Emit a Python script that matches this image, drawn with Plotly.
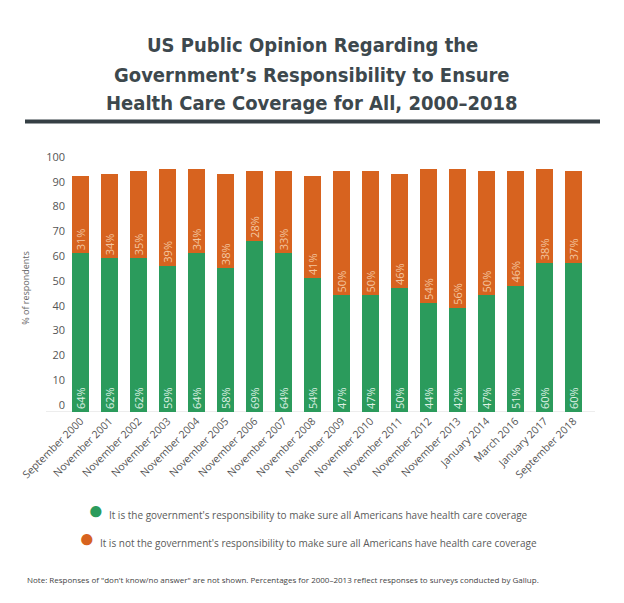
import plotly.graph_objects as go

categories = ["September 2000", "November 2001", "November 2002", "November 2003",
              "November 2004", "November 2005", "November 2006", "November 2007",
              "November 2008", "November 2009", "November 2010", "November 2011",
              "November 2012", "November 2013", "January 2014", "March 2016",
              "January 2017", "September 2018"]
yes_values = [64, 62, 62, 59, 64, 58, 69, 64, 54, 47, 47, 50, 44, 42, 47, 51, 60, 60]
no_values = [31, 34, 35, 39, 34, 38, 28, 33, 41, 50, 50, 46, 54, 56, 50, 46, 38, 37]
y_ticks = [0, 10, 20, 30, 40, 50, 60, 70, 80, 90, 100]

GREEN = "#2b9b5c"
ORANGE = "#d7631f"

# page body has an 8px default margin; work in reference pixel coords and offset
OFF = 8
W, H = 624 - OFF, 603 - 2 * OFF
PLOT_L, PLOT_R, PLOT_T, PLOT_B = 66, 588, 163.5, 412   # reference pixel coords
M_L = PLOT_L - OFF
M_R = W - (PLOT_R - OFF)
M_T = PLOT_T - OFF
M_B = H - (PLOT_B - OFF)
PH = H - M_T - M_B
PW = W - M_L - M_R


def py(px):
    return (PLOT_B - px) / PH


def pxx(px):
    return (px - PLOT_L) / PW


fig = go.Figure()
fig.add_trace(go.Bar(
    x=categories, y=yes_values, marker_color=GREEN, marker_line_width=0,
    text=[f"{v}%" for v in yes_values], textposition="inside",
    insidetextanchor="start", textangle=-90, constraintext="none",
    textfont=dict(family="Open Sans", size=11, color="#dff1e5"),
    name="yes", showlegend=False, hoverinfo="skip"))
fig.add_trace(go.Bar(
    x=categories, y=no_values, marker_color=ORANGE, marker_line_width=0,
    text=[f"{v}%" for v in no_values], textposition="inside",
    insidetextanchor="start", textangle=-90, constraintext="none",
    textfont=dict(family="Open Sans", size=11, color="#f4c6a0"),
    name="no", showlegend=False, hoverinfo="skip"))

title_font = dict(family="DejaVu Sans Condensed", size=20, weight="bold", color="#3d484d")
title_lines = ["US Public Opinion Regarding the",
               "Government’s Responsibility to Ensure",
               "Health Care Coverage for All, 2000–2018"]
title_ys = [44, 74, 102]
annotations = []
for t, ypx in zip(title_lines, title_ys):
    annotations.append(dict(text=t, x=pxx(312), y=py(ypx), xref="paper", yref="paper",
                            xanchor="center", yanchor="middle", showarrow=False,
                            font=title_font))

legend_font = dict(family="Open Sans", size=10, color="#5a5a5a")
annotations.append(dict(
    text=f"<span style='color:{GREEN};font-size:26px'>●</span>&nbsp; It is the government's responsibility to make sure all Americans have health care coverage",
    x=pxx(308), y=py(509), xref="paper", yref="paper", xanchor="center", yanchor="middle",
    showarrow=False, font=legend_font))
annotations.append(dict(
    text=f"<span style='color:{ORANGE};font-size:26px'>●</span>&nbsp; It is not the government's responsibility to make sure all Americans have health care coverage",
    x=pxx(308), y=py(537), xref="paper", yref="paper", xanchor="center", yanchor="middle",
    showarrow=False, font=legend_font))
annotations.append(dict(
    text="Note: Responses of \"don't know/no answer\" are not shown. Percentages for 2000–2013 reflect responses to surveys conducted by Gallup.",
    x=pxx(25), y=py(580), xref="paper", yref="paper", xanchor="left", yanchor="middle",
    showarrow=False, font=dict(family="Open Sans", size=8, color="#444444")))

fig.update_layout(
    width=W, height=H,
    margin=dict(l=M_L, r=M_R, t=M_T, b=M_B, pad=0),
    barmode="stack", bargap=0.4,
    plot_bgcolor="white", paper_bgcolor="white",
    annotations=annotations,
    shapes=[dict(type="line", xref="paper", yref="paper",
                 x0=pxx(25), x1=pxx(600), y0=py(121), y1=py(121),
                 line=dict(color="#353f44", width=4)),
            dict(type="line", xref="paper", yref="y",
                 x0=pxx(46), x1=pxx(595), y0=0, y1=0,
                 line=dict(color="#dadada", width=1), layer="below")],
    xaxis=dict(tickangle=-45, tickfont=dict(family="Open Sans", size=10.5, color="#555555"),
               showline=False, ticks="", showgrid=False),
    yaxis=dict(range=[0, 100], tickvals=y_ticks, showgrid=False, zeroline=False,
               ticklabelshift=-7,
               tickfont=dict(family="Open Sans", size=11, color="#555555"),
               title=dict(text="% of respondents", standoff=14,
                          font=dict(family="Open Sans", size=9, color="#666666"))),
)

fig.write_html("out.html", config={"displayModeBar": False})
